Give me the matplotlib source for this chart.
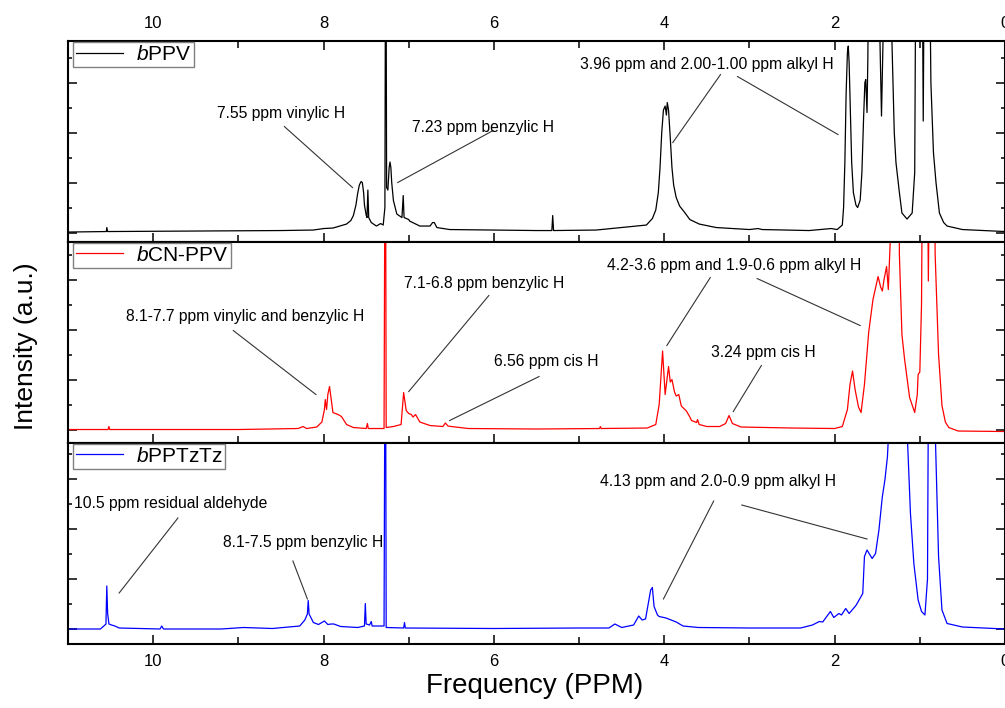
import numpy as np
import matplotlib.pyplot as plt
from matplotlib.ticker import MultipleLocator

plt.rcParams['font.family'] = ['Liberation Sans', 'DejaVu Sans']
plt.rcParams['mathtext.fontset'] = 'custom'
plt.rcParams['mathtext.it'] = 'Liberation Sans:italic'
plt.rcParams['mathtext.rm'] = 'Liberation Sans'

# traced spectra: chemical shift (ppm) and intensity (a.u., baseline = 0)
ppm_ppv = [11.0, 10.6, 10.55, 10.545, 10.535, 9.5, 8.5, 8.12, 8.0, 7.89, 7.73, 7.68, 7.65, 7.62,
           7.60, 7.58, 7.56, 7.545, 7.53, 7.52, 7.50, 7.49, 7.48, 7.47, 7.44, 7.38, 7.33, 7.30,
           7.28, 7.27, 7.26, 7.245, 7.23, 7.22, 7.21, 7.20, 7.18, 7.14, 7.08, 7.065, 7.055, 7.0,
           6.99, 6.87, 6.75, 6.72, 6.70, 6.67, 6.52, 6.0, 5.5, 5.32, 5.31, 5.30, 4.8, 4.5, 4.21,
           4.14, 4.10, 4.07, 4.05, 4.03, 4.01, 3.99, 3.975, 3.965, 3.95, 3.93, 3.91, 3.89, 3.86,
           3.82, 3.76, 3.70, 3.59, 3.39, 3.0, 2.90, 2.85, 2.3, 2.04, 1.97, 1.91, 1.895, 1.88,
           1.865, 1.85, 1.84, 1.83, 1.815, 1.80, 1.78, 1.75, 1.73, 1.70, 1.68, 1.66, 1.645, 1.635,
           1.62, 1.61, 1.59, 1.50, 1.47, 1.45, 1.43, 1.41, 1.35, 1.33, 1.30, 1.28, 1.24, 1.21,
           1.15, 1.09, 1.06, 1.04, 0.98, 0.96, 0.94, 0.90, 0.87, 0.84, 0.81, 0.77, 0.72, 0.68,
           0.5, 0.0]
int_ppv = [0.01, 0.02, 0.02, 0.1, 0.02, 0.03, 0.04, 0.05, 0.08, 0.09, 0.17, 0.24, 0.34, 0.55,
           0.78, 0.95, 1.02, 1.0, 0.8, 0.55, 0.35, 0.3, 0.85, 0.3, 0.2, 0.13, 0.18, 0.15,
           0.5, 8.0, 0.9, 0.85, 1.3, 1.41, 1.3, 1.0, 0.64, 0.37, 0.3, 0.74, 0.3, 0.26,
           0.23, 0.13, 0.13, 0.2, 0.2, 0.1, 0.06, 0.05, 0.04, 0.04, 0.34, 0.04, 0.05, 0.1, 0.15,
           0.28, 0.45, 0.8, 1.3, 2.0, 2.45, 2.53, 2.35, 2.6, 2.45, 1.9, 1.3, 0.95, 0.7,
           0.53, 0.4, 0.26, 0.17, 0.1, 0.06, 0.08, 0.06, 0.04, 0.08, 0.06, 0.15, 0.5, 1.4,
           2.8, 3.6, 3.73, 3.4, 2.4, 1.4, 0.8, 0.55, 0.5, 0.65, 1.2, 2.3, 3.0, 3.06,
           2.4, 3.5, 8.0, 8.0, 4.0, 2.33, 4.0, 8.0, 8.0, 4.0, 2.0, 1.40, 0.8, 0.39,
           0.27, 0.39, 1.2, 8.0, 8.0, 2.23, 8.0, 8.0, 3.0, 1.6, 1.0, 0.39, 0.2, 0.13,
           0.06, 0.02]

ppm_cn = [11.0, 10.53, 10.52, 10.51, 9.0, 8.3, 8.24, 8.20, 8.08, 8.02, 7.99, 7.98, 7.965, 7.95,
          7.93, 7.91, 7.89, 7.86, 7.83, 7.79, 7.73, 7.65, 7.5, 7.485, 7.475, 7.29, 7.275, 7.265,
          7.18, 7.09, 7.06, 7.03, 7.00, 6.97, 6.95, 6.92, 6.87, 6.75, 6.60, 6.57, 6.54, 6.5, 6.3,
          5.5, 4.76, 4.75, 4.74, 4.2, 4.10, 4.06, 4.02, 3.99, 3.95, 3.93, 3.91, 3.88, 3.86, 3.83,
          3.80, 3.74, 3.70, 3.68, 3.62, 3.61, 3.59, 3.5, 3.35, 3.28, 3.24, 3.20, 3.1, 2.5, 2.0,
          1.91, 1.85, 1.82, 1.79, 1.76, 1.72, 1.69, 1.65, 1.60, 1.55, 1.49, 1.46, 1.44, 1.42,
          1.39, 1.37, 1.33, 1.30, 1.25, 1.24, 1.21, 1.18, 1.12, 1.06, 1.03, 1.02, 1.00, 0.98,
          0.96, 0.92, 0.90, 0.87, 0.84, 0.82, 0.78, 0.74, 0.70, 0.66, 0.55, 0.0]
int_cn = [0.0, 0.0, 0.06, 0.0, 0.0, 0.02, 0.06, 0.02, 0.05, 0.15, 0.4, 0.6, 0.4, 0.7,
          0.86, 0.6, 0.34, 0.32, 0.3, 0.26, 0.1, 0.04, 0.02, 0.12, 0.02, 0.02, 8.0, 0.04,
          0.06, 0.1, 0.74, 0.38, 0.32, 0.3, 0.25, 0.3, 0.15, 0.08, 0.06, 0.13, 0.07, 0.06, 0.02,
          0.01, 0.02, 0.06, 0.02, 0.03, 0.1, 0.5, 1.57, 0.70, 1.26, 0.95, 1.0, 0.75, 0.67, 0.7,
          0.47, 0.37, 0.25, 0.18, 0.14, 0.2, 0.1, 0.06, 0.06, 0.12, 0.28, 0.12, 0.05, 0.03, 0.02,
          0.06, 0.4, 0.9, 1.17, 0.8, 0.45, 0.34, 0.9, 1.95, 2.6, 3.06, 2.85, 2.77, 3.0,
          3.26, 2.8, 4.5, 8.0, 8.0, 3.5, 1.9, 1.42, 0.64, 0.34, 0.7, 1.1, 1.15, 2.5,
          8.0, 8.0, 2.97, 8.0, 8.0, 3.5, 1.5, 0.48, 0.15, 0.04, -0.03, -0.04]

ppm_tztz = [11.0, 10.62, 10.58, 10.555, 10.545, 10.535, 10.52, 10.49, 10.45, 10.4, 9.92, 9.90,
            9.88, 9.2, 8.94, 8.6, 8.28, 8.22, 8.19, 8.18, 8.17, 8.12, 8.06, 7.99, 7.95, 7.91,
            7.88, 7.80, 7.6, 7.52, 7.51, 7.50, 7.46, 7.44, 7.43, 7.29, 7.275, 7.265, 7.06, 7.05,
            7.04, 6.0, 5.0, 4.65, 4.58, 4.50, 4.36, 4.30, 4.26, 4.22, 4.16, 4.14, 4.12, 4.08,
            4.06, 3.98, 3.86, 3.78, 3.6, 3.0, 2.4, 2.26, 2.18, 2.14, 2.05, 2.01, 1.95, 1.92, 1.87,
            1.83, 1.75, 1.67, 1.65, 1.62, 1.56, 1.52, 1.48, 1.44, 1.41, 1.38, 1.35, 1.30, 1.17,
            1.15, 1.11, 1.07, 1.02, 0.98, 0.94, 0.91, 0.89, 0.83, 0.82, 0.78, 0.74, 0.68, 0.5, 0.0]
int_tztz = [0.0, 0.0, 0.06, 0.1, 0.86, 0.31, 0.1, 0.08, 0.06, 0.02, 0.0, 0.06,
            0.0, 0.0, 0.03, 0.01, 0.06, 0.18, 0.3, 0.57, 0.3, 0.13, 0.09, 0.16, 0.09, 0.1,
            0.1, 0.05, 0.03, 0.06, 0.51, 0.1, 0.08, 0.15, 0.06, 0.06, 8.0, 0.03, 0.02, 0.13,
            0.02, 0.01, 0.02, 0.02, 0.1, 0.03, 0.08, 0.26, 0.18, 0.2, 0.78, 0.83, 0.45, 0.28,
            0.25, 0.22, 0.14, 0.06, 0.03, 0.02, 0.02, 0.08, 0.15, 0.14, 0.35, 0.23, 0.31, 0.28, 0.41,
            0.31, 0.47, 0.71, 1.45, 1.58, 1.41, 1.51, 1.98, 2.65, 2.98, 3.45, 4.5, 8.0, 8.0,
            4.0, 2.31, 1.31, 0.58, 0.35, 0.28, 1.0, 8.0, 8.0, 4.0, 1.45, 0.38, 0.11, 0.04, 0.0]

names = [r'$\mathit{b}$PPV', r'$\mathit{b}$CN-PPV', r'$\mathit{b}$PPTzTz']
colors = ['black', '#ff0000', '#0000ff']
spectra = [(ppm_ppv, int_ppv), (ppm_cn, int_cn), (ppm_tztz, int_tztz)]
ylims = [(-0.19, 3.83), (-0.27, 3.75), (-0.3, 3.72)]

# peak labels: text, text x/y, list of leader lines
notes = [
    [('7.55 ppm vinylic H', 9.25, 2.38, [(8.46, 2.12, 7.66, 0.90)]),
     ('7.23 ppm benzylic H', 6.96, 2.1, [(6.01, 2.04, 7.13, 1.0)]),
     ('3.96 ppm and 2.00-1.00 ppm alkyl H', 4.99, 3.36,
      [(3.34, 3.16, 3.90, 1.8), (3.14, 3.12, 1.96, 1.96)])],
    [('8.1-7.7 ppm vinylic and benzylic H', 10.32, 2.26, [(9.06, 1.98, 8.09, 0.7)]),
     ('7.1-6.8 ppm benzylic H', 7.05, 2.92, [(6.06, 2.68, 7.0, 0.76)]),
     ('6.56 ppm cis H', 6.0, 1.36, [(5.47, 1.06, 6.52, 0.18)]),
     ('4.2-3.6 ppm and 1.9-0.6 ppm alkyl H', 4.67, 3.28,
      [(3.46, 3.04, 3.97, 1.68), (2.91, 3.02, 1.70, 2.08)]),
     ('3.24 ppm cis H', 3.45, 1.54, [(2.86, 1.28, 3.19, 0.36)])],
    [('10.5 ppm residual aldehyde', 10.93, 2.52, [(9.71, 2.22, 10.40, 0.72)]),
     ('8.1-7.5 ppm benzylic H', 9.18, 1.74, [(8.36, 1.36, 8.19, 0.6)]),
     ('4.13 ppm and 2.0-0.9 ppm alkyl H', 4.75, 2.96,
      [(3.42, 2.56, 4.01, 0.6), (3.09, 2.48, 1.62, 1.8)])],
]

fig, axes = plt.subplots(3, 1, sharex=True, figsize=(10.05, 7.08), dpi=100)
fig.subplots_adjust(left=0.0677, right=1.0, top=0.942, bottom=0.0904, hspace=0)

for i, ax in enumerate(axes):
    x, y = spectra[i]
    ax.plot(x, y, color=colors[i], lw=0.9, label=names[i])
    ax.set_xlim(11.0, 0.0)
    ax.set_ylim(*ylims[i])

    for txt, tx, ty, lines in notes[i]:
        ax.text(tx, ty, txt, fontsize=11.3, ha='left', va='center')
        for x0, y0, x1, y1 in lines:
            ax.plot([x0, x1], [y0, y1], color='#333333', lw=0.8)

    leg = ax.legend(loc='upper left', bbox_to_anchor=(0.0053, 0.997), borderaxespad=0,
                    fontsize=15, frameon=True, fancybox=False, framealpha=1,
                    borderpad=0.15, handlelength=2.25, handletextpad=0.6)
    leg.get_frame().set_edgecolor('#808080')
    leg.get_frame().set_linewidth(1.0)

    for s in ax.spines.values():
        s.set_linewidth(1.5)
    ax.xaxis.set_major_locator(MultipleLocator(2))
    ax.xaxis.set_minor_locator(MultipleLocator(1))
    ax.yaxis.set_major_locator(MultipleLocator(1))
    ax.yaxis.set_minor_locator(MultipleLocator(0.5))
    ax.tick_params(axis='x', which='both', direction='in', top=(i == 0), bottom=True,
                   labeltop=(i == 0), labelbottom=(i == 2), labelsize=12, pad=7)
    ax.tick_params(axis='x', which='major', length=6.2, width=1.1)
    ax.tick_params(axis='x', which='minor', length=5.0, width=1.1)
    ax.tick_params(axis='y', which='both', direction='in', left=True, right=True,
                   labelleft=False, width=1.1)
    ax.tick_params(axis='y', which='major', length=6.2)
    ax.tick_params(axis='y', which='minor', length=3.2)

fig.text(0.532, 1 - 686 / 708, 'Frequency (PPM)', fontsize=20, ha='center', va='center')
fig.text(0.026, 1 - 346 / 708, 'Intensity (a.u.)', fontsize=19, ha='center', va='center',
         rotation=90)

fig.savefig('out.png', dpi=100)
